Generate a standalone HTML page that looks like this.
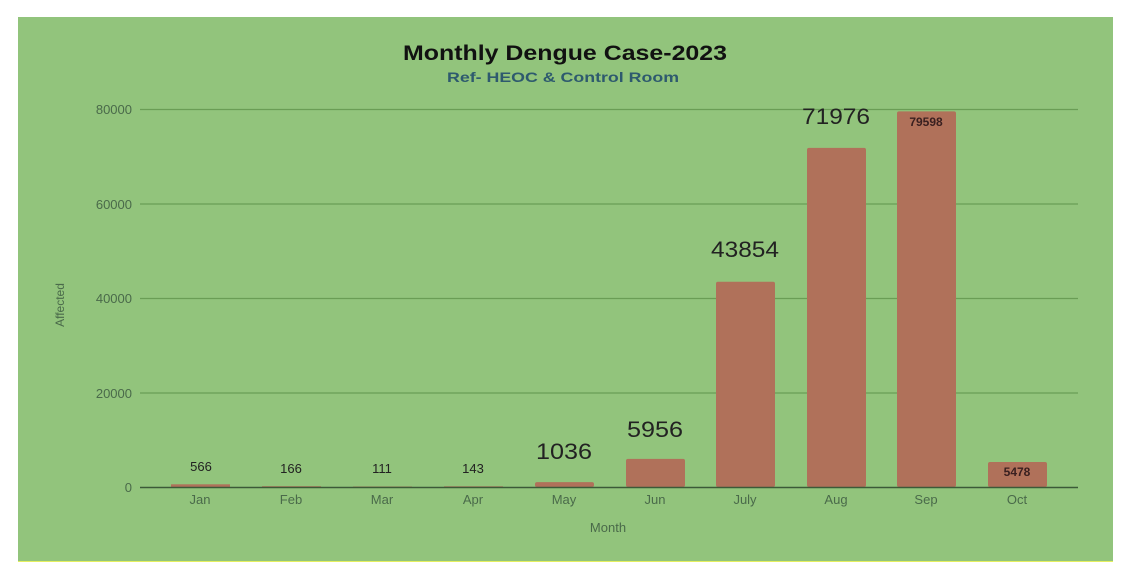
<!DOCTYPE html>
<html><head><meta charset="utf-8"><style>
html,body{margin:0;padding:0;background:#fff;width:1140px;height:570px;overflow:hidden}
svg{display:block}
text{font-family:"Liberation Sans",sans-serif}
</style></head><body>
<svg width="1140" height="570" viewBox="0 0 1140 570">
<rect x="18" y="17" width="1095" height="544" fill="#92c47c"/>
<line x1="18" y1="561.5" x2="1113" y2="561.5" stroke="#e4ef60" stroke-width="1"/>
<text x="403" y="60" font-size="21" font-weight="bold" fill="#111" textLength="324" lengthAdjust="spacingAndGlyphs">Monthly Dengue Case-2023</text>
<text x="447" y="82" font-size="14" font-weight="bold" fill="#2e5a6e" textLength="232" lengthAdjust="spacingAndGlyphs">Ref- HEOC &amp; Control Room</text>
<g stroke="#6a9d55" stroke-width="1.3">
<line x1="140" y1="109.5" x2="1078" y2="109.5"/>
<line x1="140" y1="204" x2="1078" y2="204"/>
<line x1="140" y1="298.5" x2="1078" y2="298.5"/>
<line x1="140" y1="393" x2="1078" y2="393"/>
</g>
<g font-size="13" fill="#4a6a4a" text-anchor="end">
<text x="132" y="114">80000</text>
<text x="132" y="209">60000</text>
<text x="132" y="303">40000</text>
<text x="132" y="398">20000</text>
<text x="132" y="492">0</text>
</g>
<text transform="translate(64,305) rotate(-90)" text-anchor="middle" font-size="12" fill="#4a6a4a">Affected</text>
<g fill="#b0715a">
<rect x="171" y="484.3" width="59" height="2.7"/>
<rect x="262" y="486.2" width="59" height="0.8"/>
<rect x="353" y="486.5" width="59" height="0.5"/>
<rect x="444" y="486.3" width="59" height="0.7"/>
<rect x="535" y="482.1" width="59" height="4.9" rx="2"/>
<rect x="626" y="458.9" width="59" height="28.1" rx="2"/>
<rect x="716" y="281.8" width="59" height="205.2" rx="2"/>
<rect x="807" y="147.9" width="59" height="339.1" rx="2"/>
<rect x="897" y="111.4" width="59" height="375.6" rx="2"/>
<rect x="988" y="462" width="59" height="25" rx="2"/>
</g>
<line x1="140" y1="487.5" x2="1078" y2="487.5" stroke="#3c5a38" stroke-width="1.5"/>
<g font-size="13" fill="#4a6a4a" text-anchor="middle">
<text x="200" y="504">Jan</text><text x="291" y="504">Feb</text><text x="382" y="504">Mar</text>
<text x="473" y="504">Apr</text><text x="564" y="504">May</text><text x="655" y="504">Jun</text>
<text x="745" y="504">July</text><text x="836" y="504">Aug</text><text x="926" y="504">Sep</text>
<text x="1017" y="504">Oct</text>
</g>
<text x="608" y="532" text-anchor="middle" font-size="13" fill="#4a6a4a">Month</text>
<g fill="#222" text-anchor="middle">
<text x="201" y="471" font-size="13">566</text>
<text x="291" y="473" font-size="13">166</text>
<text x="382" y="473" font-size="13">111</text>
<text x="473" y="473" font-size="13">143</text>
<text x="564" y="459" font-size="22" textLength="56" lengthAdjust="spacingAndGlyphs">1036</text>
<text x="655" y="437" font-size="22" textLength="56" lengthAdjust="spacingAndGlyphs">5956</text>
<text x="745" y="257" font-size="22" textLength="68" lengthAdjust="spacingAndGlyphs">43854</text>
<text x="836" y="124" font-size="22" textLength="68" lengthAdjust="spacingAndGlyphs">71976</text>
<text x="926" y="126" font-size="12" font-weight="bold" fill="#3a2020">79598</text>
<text x="1017" y="476" font-size="12" font-weight="bold" fill="#3a2020">5478</text>
</g>
</svg>
</body></html>
